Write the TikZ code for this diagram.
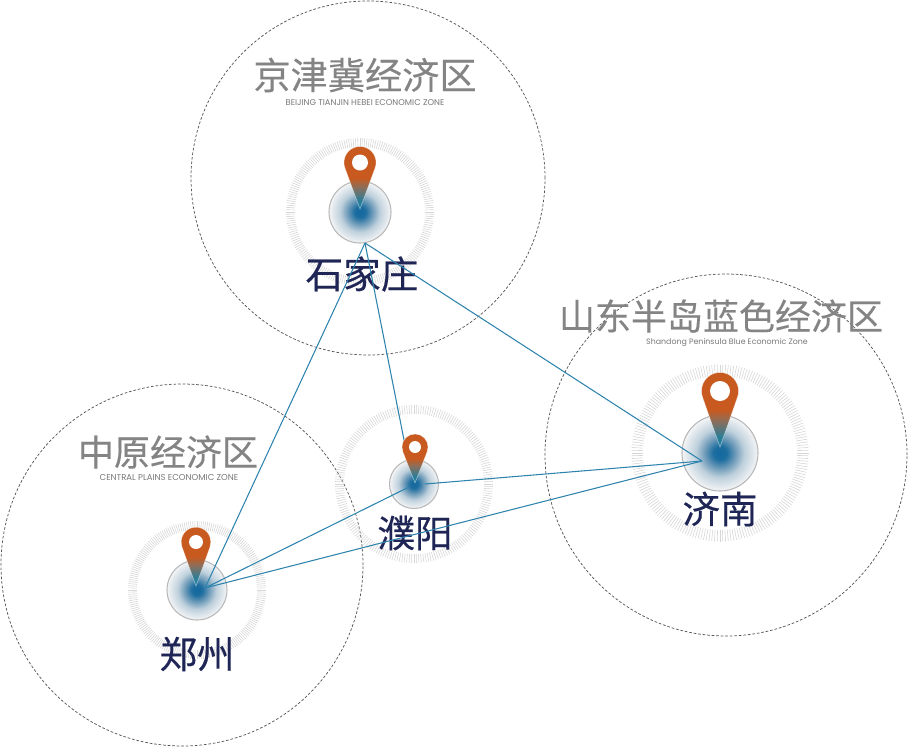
\documentclass[tikz,border=0pt]{standalone}
\usepackage{fontspec}
\setmainfont{Poppins}
\newfontfamily\cjk[FakeBold=0.35]{Noto Sans CJK SC}
\newfontfamily\cjktitle[FakeBold=0.25]{Noto Sans CJK SC}
\newfontfamily\latn{Poppins}
\usetikzlibrary{calc}
\definecolor{navy}{HTML}{1F2555}
\definecolor{titlegray}{HTML}{848484}
\definecolor{subgray}{HTML}{787878}
\definecolor{linkblue}{HTML}{2F84AE}
\definecolor{rim}{HTML}{B8B8B8}
\definecolor{tickgray}{HTML}{D6D6D6}
\definecolor{zonegray}{HTML}{555555}
\pgfdeclareradialshading{blob}{\pgfpoint{0bp}{0bp}}{%
 color(0bp)=(rgb,255:red,18;green,104;blue,158);
 color(4.5bp)=(rgb,255:red,30;green,110;blue,160);
 color(10bp)=(rgb,255:red,110;green,155;blue,185);
 color(16bp)=(rgb,255:red,190;green,208;blue,220);
 color(25bp)=(rgb,255:red,244;green,245;blue,246);
 color(100bp)=(rgb,255:red,244;green,245;blue,246)}
\pgfdeclareverticalshading{pinshade}{100bp}{%
 color(0bp)=(rgb,255:red,28;green,128;blue,158);
 color(25bp)=(rgb,255:red,28;green,128;blue,158);
 color(32bp)=(rgb,255:red,45;green,125;blue,150);
 color(42bp)=(rgb,255:red,140;green,110;blue,90);
 color(49bp)=(rgb,255:red,200;green,90;blue,32);
 color(100bp)=(rgb,255:red,200;green,88;blue,30)}
\tikzset{
 zone/.style={circle,draw=zonegray,line width=0.55pt,dash pattern=on 2pt off 1.4pt,inner sep=0pt,fill=none},
 hub/.style={circle,draw=rim,line width=0.8pt,shading=blob,inner sep=0pt},
 citylabel/.style={font=\cjk\fontsize{28.2pt}{30pt}\selectfont,text=navy,inner sep=0pt},
 zonetitle/.style={font=\cjktitle\fontsize{27pt}{30pt}\selectfont,text=titlegray,inner sep=0pt},
 zonesub/.style={font=\latn\fontsize{#1}{7pt}\selectfont,text=subgray,inner sep=0pt},
 link/.style={draw=linkblue,line width=0.8pt},
 tickmark/.style={draw=tickgray,line width=0.45pt},
}
% ring of radial ticks: centre, inner radius, outer radius
\newcommand{\tickring}[3]{%
 \foreach \a in {0,1.8,...,358.3}
  \draw[tickmark] ($(#1)+(\a:#2*0.75pt)$) -- ($(#1)+(\a:#3*0.75pt)$);}
% map pin: head x, head y, head radius, hole radius, tip y
\newcommand{\mappin}[5]{%
 \pgfmathsetmacro{\pinang}{acos(#3/(#5-#2))}%
 \begin{scope}[shift={(#1,#2)},x=0.75pt,y=0.75pt]
 \path[shading=pinshade,draw=white,draw opacity=.5,line width=.4pt]
  (0,{-(#5-#2)}) -- ({-90-\pinang}:#3)
  arc[start angle={-90-\pinang},end angle={-450+\pinang},radius=#3*0.75pt] -- cycle;
 \fill[white] (0,0) circle[radius=#4*0.75pt];
 \end{scope}}
\begin{document}
\begin{tikzpicture}[x=0.75pt,y=-0.75pt]
\useasboundingbox (0,0) rectangle (908,747);
% zones
\node[zone,minimum size=354*0.75pt] (zoneN) at (368,178) {};
\node[zone,minimum size=362*0.75pt] (zoneE) at (726,455) {};
\node[zone,minimum size=362*0.75pt] (zoneW) at (182,565) {};
% tick rings
\tickring{360,212}{65}{74}
\tickring{720,453}{77}{88.5}
\tickring{414,484}{70}{79}
\tickring{197,590}{60}{69}
% hubs
\node[hub,minimum size=62*0.75pt] (hubS) at (360,212) {};
\node[hub,minimum size=76*0.75pt] (hubJ) at (720,453) {};
\node[hub,minimum size=49*0.75pt] (hubP) at (414,484) {};
\node[hub,minimum size=60*0.75pt] (hubZ) at (197,590) {};
% titles
\node[zonetitle,font=\cjktitle\fontsize{27.9pt}{30pt}\selectfont] (titleN) at (365,75) {京津冀经济区};
\node[zonesub=6.3pt] (subN) at (365,103) {BEIJING TIANJIN HEBEI ECONOMIC ZONE};
\node[zonetitle] (titleE) at (721,316) {山东半岛蓝色经济区};
\node[zonesub=5.9pt] (subE) at (727,343) {Shandong Peninsula Blue Economic Zone};
\node[zonetitle] (titleW) at (168,452) {中原经济区};
\node[zonesub=6.4pt] (subW) at (169,478) {CENTRAL PLAINS ECONOMIC ZONE};
% city names
\node[citylabel] (cityS) at (362,274) {石家庄};
\node[citylabel] (cityJ) at (720,509) {济南};
\node[citylabel] (cityP) at (415,533) {濮阳};
\node[citylabel] (cityZ) at (197,654) {郑州};
% connector ends
\coordinate (endS) at (365,243);
\coordinate (endJ) at (702,461);
\coordinate (endZ) at (205,588);
\coordinate (endPw) at (409,487);
\coordinate (endPe) at (425,484);
\coordinate (endPn) at (406,450);
\draw[link] (endS) -- (endZ);
\draw[link] (endS) -- (endJ);
\draw[link] (endS) -- (endPn);
\draw[link] (endPe) -- (endJ);
\draw[link] (endZ) -- (endPw);
\draw[link] (endZ) -- (endJ);
% pins
\mappin{360}{162.5}{16}{8}{209}
\mappin{720}{391}{18.5}{10}{447}
\mappin{415}{447}{13}{6}{483}
\mappin{196}{542}{14.8}{7}{586}
\end{tikzpicture}
\end{document}
